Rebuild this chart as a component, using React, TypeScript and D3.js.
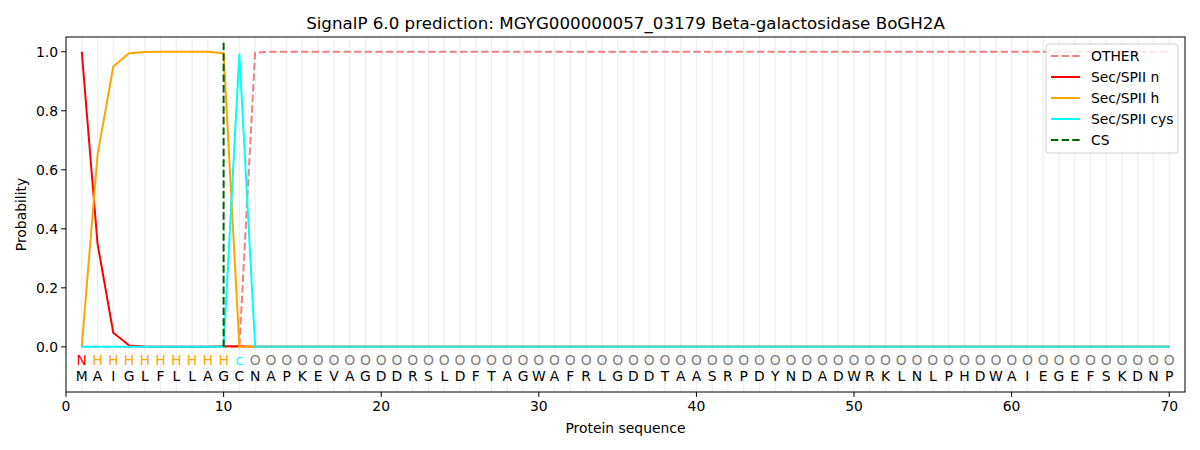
import React from "react";
import * as d3 from "d3";

const title = "SignalP 6.0 prediction: MGYG000000057_03179 Beta-galactosidase BoGH2A";
const sequence = "MAIGLFLLAGCNAPKEVAGDDRSLDFTAGWAFRLGDDTAASRPDYNDADWRKLNLPHDWAIEGEFSKDNP".split("");
const regionLabels = ("N" + "H".repeat(9) + "c" + "O".repeat(59)).split("");

const zeros = (n: number) => new Array(n).fill(0);
const ones = (n: number) => new Array(n).fill(1);

const otherProb = [...zeros(11), 0.997, ...ones(58)];
const nProb = [1.0, 0.35, 0.048, 0.005, 0.001, 0, 0, 0, 0, 0.002, 0.002, ...zeros(59)];
const hProb = [0.0, 0.65, 0.95, 0.995, 0.999, 1.0, 1.0, 1.0, 1.0, 0.995, 0.0, ...zeros(59)];
const cysProb = [...zeros(10), 0.993, ...zeros(59)];
const csPosition = 10;

const xTicks = [0, 10, 20, 30, 40, 50, 60, 70];
const yTicks = [0, 0.2, 0.4, 0.6, 0.8, 1.0];

const labelColor: Record<string, string> = { N: "red", H: "orange", c: "cyan", O: "grey" };

const series = [
  { name: "OTHER", values: otherProb, color: "#f08080", dash: "7.4,3.2" },
  { name: "Sec/SPII n", values: nProb, color: "red", dash: "" },
  { name: "Sec/SPII h", values: hProb, color: "orange", dash: "" },
  { name: "Sec/SPII cys", values: cysProb, color: "cyan", dash: "" },
];

const W = 1200;
const H = 450;
const margin = { top: 37, right: 15, bottom: 58, left: 66 };

export default function App() {
  const x = d3.scaleLinear().domain([0, 71]).range([margin.left, W - margin.right]);
  const y = d3.scaleLinear().domain([-0.153, 1.05]).range([H - margin.bottom, margin.top]);
  const line = d3
    .line<number>()
    .x((_, i) => x(i + 1))
    .y((d) => y(d));

  // the mature part where every signal-peptide class sits at zero
  const tailStart = cysProb.findIndex((v, i) => i > 0 && v === 0 && cysProb[i - 1] > 0.5);
  const tailLine = d3
    .line<number>()
    .x((_, i) => x(i + tailStart + 1))
    .y((d) => y(d));

  const font = "DejaVu Sans, sans-serif";
  const fs = 13.9;
  const plotLeft = margin.left;
  const plotRight = W - margin.right;
  const plotTop = margin.top;
  const plotBottom = H - margin.bottom;

  const legendItems = [
    ...series.map((s) => ({ name: s.name, color: s.color, dash: s.dash })),
    { name: "CS", color: "darkgreen", dash: "7.4,3.2" },
  ];

  return (
    <svg width={W} height={H} style={{ position: "absolute", left: 0, top: 0, background: "white" }} fontFamily={font}>
      <rect width={W} height={H} fill="white" />
      {/* per-residue grid */}
      {sequence.map((_, i) => (
        <line key={"g" + i} x1={x(i + 1)} x2={x(i + 1)} y1={plotTop} y2={plotBottom} stroke="#eeeeee" strokeWidth={1.2} />
      ))}
      {series.map((s) => (
        <path key={s.name} d={line(s.values) || ""} fill="none" stroke={s.color} strokeWidth={2} strokeDasharray={s.dash} />
      ))}
      <path d={tailLine(cysProb.slice(tailStart)) || ""} fill="none" stroke="#40e0d0" strokeWidth={2} />
      <line x1={x(csPosition)} x2={x(csPosition)} y1={y(0)} y2={y(1.04)} stroke="darkgreen" strokeWidth={2} strokeDasharray="7.4,3.2" />

      {/* sequence rows */}
      {regionLabels.map((l, i) => (
        <text key={"r" + i} x={x(i + 1)} y={y(-0.063)} textAnchor="middle" fontSize={fs} fill={labelColor[l]}>
          {l}
        </text>
      ))}
      {sequence.map((a, i) => (
        <text key={"a" + i} x={x(i + 1)} y={y(-0.116)} textAnchor="middle" fontSize={fs} fill="black">
          {a}
        </text>
      ))}

      {/* frame */}
      <rect x={plotLeft} y={plotTop} width={plotRight - plotLeft} height={plotBottom - plotTop} fill="none" stroke="black" strokeWidth={1} />

      {/* axes */}
      {xTicks.map((t) => (
        <g key={"x" + t}>
          <line x1={x(t)} x2={x(t)} y1={plotBottom} y2={plotBottom + 4.9} stroke="black" />
          <text x={x(t)} y={plotBottom + 19} textAnchor="middle" fontSize={fs}>
            {t}
          </text>
        </g>
      ))}
      {yTicks.map((t) => (
        <g key={"y" + t}>
          <line x1={plotLeft - 4.9} x2={plotLeft} y1={y(t)} y2={y(t)} stroke="black" />
          <text x={plotLeft - 8} y={y(t)} dy="0.35em" textAnchor="end" fontSize={fs}>
            {t.toFixed(1)}
          </text>
        </g>
      ))}
      <text x={(plotLeft + plotRight) / 2} y={433} textAnchor="middle" fontSize={fs}>
        Protein sequence
      </text>
      <text transform={`translate(26, ${(plotTop + plotBottom) / 2}) rotate(-90)`} textAnchor="middle" fontSize={fs}>
        Probability
      </text>
      <text x={(plotLeft + plotRight) / 2} y={29} textAnchor="middle" fontSize={16.7}>
        {title}
      </text>

      {/* legend */}
      <g transform="translate(1046, 44)">
        <rect width={132} height={109} rx={3} fill="white" fillOpacity={0.8} stroke="#d0d0d0" />
        {legendItems.map((it, i) => (
          <g key={it.name} transform={`translate(0, ${12 + i * 21})`}>
            <line x1={5} x2={34} y1={0} y2={0} stroke={it.color} strokeWidth={2} strokeDasharray={it.dash} />
            <text x={45} y={0} dy="0.35em" fontSize={fs}>
              {it.name}
            </text>
          </g>
        ))}
      </g>
    </svg>
  );
}
